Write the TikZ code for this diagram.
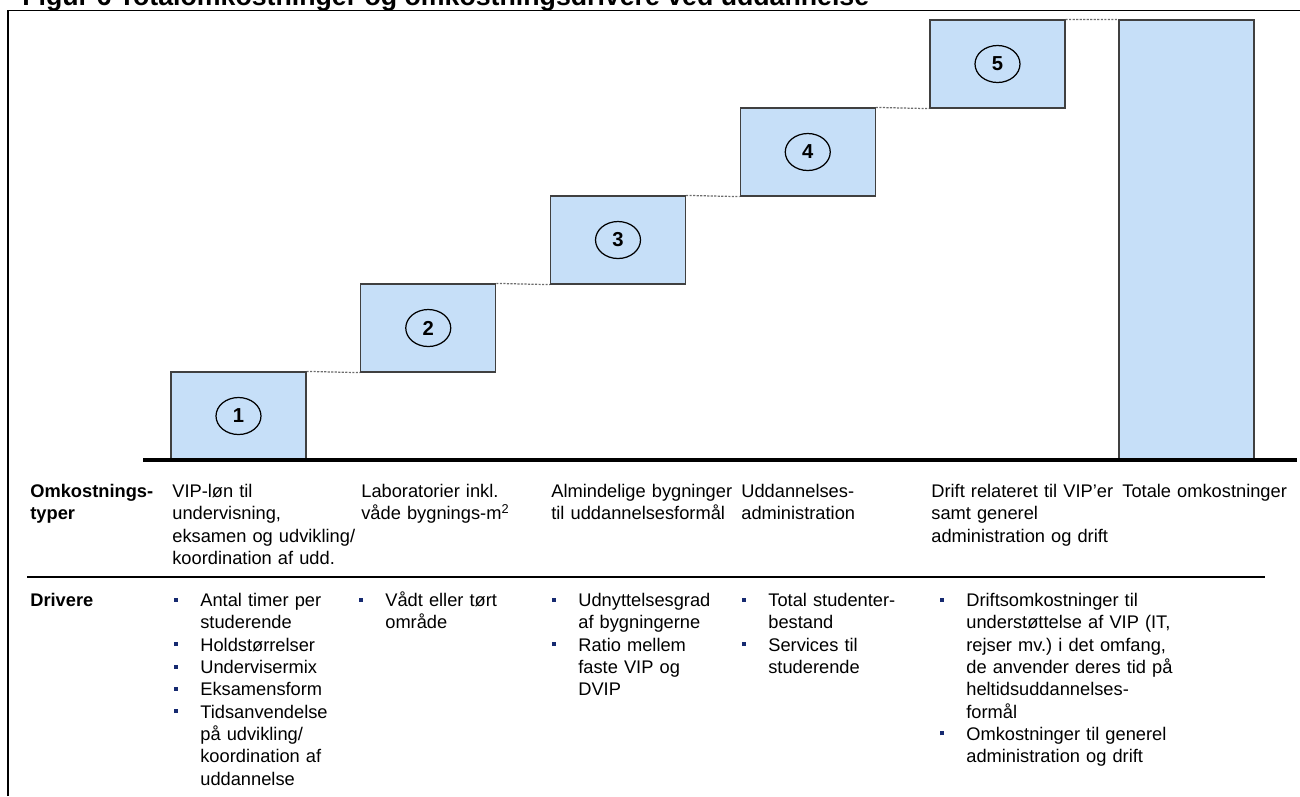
\documentclass[tikz,border=0pt]{standalone}
\usepackage{fontspec}
\setmainfont{Liberation Sans}
\usetikzlibrary{shapes.geometric, positioning}
\frenchspacing

\definecolor{stepblue}{RGB}{198,223,248}
\definecolor{stepedge}{RGB}{64,64,64}
\definecolor{bulletblue}{RGB}{22,42,112}

% bullet with hanging indent (first item), and following items
\newcommand{\drvbullet}{\hangindent=0.52cm\hangafter=1%
  \makebox[0.52cm][l]{\textcolor{bulletblue}{\raisebox{0.1cm}{\rule{0.08cm}{0.08cm}}}}}
\newcommand{\drvitem}{\par\noindent\drvbullet}

\tikzset{
  stepbox/.style={draw=stepedge, line width=0.7pt, fill=stepblue, minimum width=2.7cm, minimum height=1.76cm, inner sep=0pt},
  numoval/.style={ellipse, draw, line width=0.7pt, minimum width=0.9cm, minimum height=0.74cm, inner sep=0pt, font=\bfseries\fontsize{11.5}{13}\selectfont},
  dotline/.style={gray!85!black, line width=0.7pt, dash pattern=on 1.2pt off 0.8pt},
  txt/.style={anchor=north west, inner sep=0pt, align=left, text width=5cm, font=\fontsize{10.4}{12.7}\selectfont}
}

\begin{document}
\begin{tikzpicture}[x=0.02cm, y=-0.02cm]
\useasboundingbox (0,0) rectangle (1300,796);

% Title and frame
\node[anchor=base west, inner sep=0pt, font=\bfseries\fontsize{15.2}{18}\selectfont] (title) at (22,5) {Figur 6 Totalomkostninger og omkostningsdrivere ved uddannelse};
\draw[line width=1.1pt] (8,796) -- (8,10.5) -- (1300,10.5);

% Cost steps
\foreach \i in {1,...,5} {
    \node[stepbox] (cost\i) at ({238.5+(\i-1)*189.75},{416-(\i-1)*88}) {};
    \node[numoval] (num\i) at (cost\i) {\i};
}
\node[stepbox, minimum height=8.8cm] (total) at (1186.5,240) {};
\foreach \i in {1,...,4} {
    \pgfmathtruncatemacro{\j}{\i+1}
    \draw[dotline] (cost\i.north east) -- (cost\j.south west);
}
\draw[dotline] (cost5.north east) -- (total.north west);
\draw[line width=1.8pt] (143,460) -- (1297,460);

% Omkostningstyper
\node[txt, font=\bfseries\fontsize{10.4}{12.7}\selectfont] (rowtype) at (30,484) {Omkostnings-\\typer};
\node[txt] (omk1) at (172,484) {VIP-løn til\\undervisning,\\eksamen og udvikling/\\koordination af udd.};
\node[txt] (omk2) at (361,484) {Laboratorier inkl.\\våde bygnings-m\textsuperscript{2}};
\node[txt] (omk3) at (551,484) {Almindelige bygninger\\til uddannelsesformål};
\node[txt] (omk4) at (741,484) {Uddannelses-\\administration};
\node[txt] (omk5) at (931,484) {Drift relateret til VIP’er\\samt generel\\administration og drift};
\node[txt] (omk6) at (1122,484) {Totale omkostninger};

\draw[line width=0.8pt] (27,577) -- (1265,577);

% Drivere
\node[txt, font=\bfseries\fontsize{10.4}{12.7}\selectfont] (rowdrv) at (30,593) {Drivere};
\node[txt] (drv1) at (174,593) {\drvbullet Antal timer per\newline studerende
  \drvitem Holdstørrelser
  \drvitem Undervisermix
  \drvitem Eksamensform
  \drvitem Tidsanvendelse\newline på udvikling/\newline koordination af\newline uddannelse\par};
\node[txt] (drv2) at (359,591.5) {\drvbullet Vådt eller tørt\newline område\par};
\node[txt] (drv3) at (552,593) {\drvbullet Udnyttelsesgrad\newline af bygningerne
  \drvitem Ratio mellem\newline faste VIP og\newline DVIP\par};
\node[txt] (drv4) at (742,593) {\drvbullet Total studenter-\newline bestand
  \drvitem Services til\newline studerende\par};
\node[txt] (drv5) at (940,593) {\drvbullet Driftsomkostninger til\newline understøttelse af VIP (IT,\newline rejser mv.) i det omfang,\newline de anvender deres tid på\newline heltidsuddannelses-\newline formål
  \drvitem Omkostninger til generel\newline administration og drift\par};
\end{tikzpicture}
\end{document}
